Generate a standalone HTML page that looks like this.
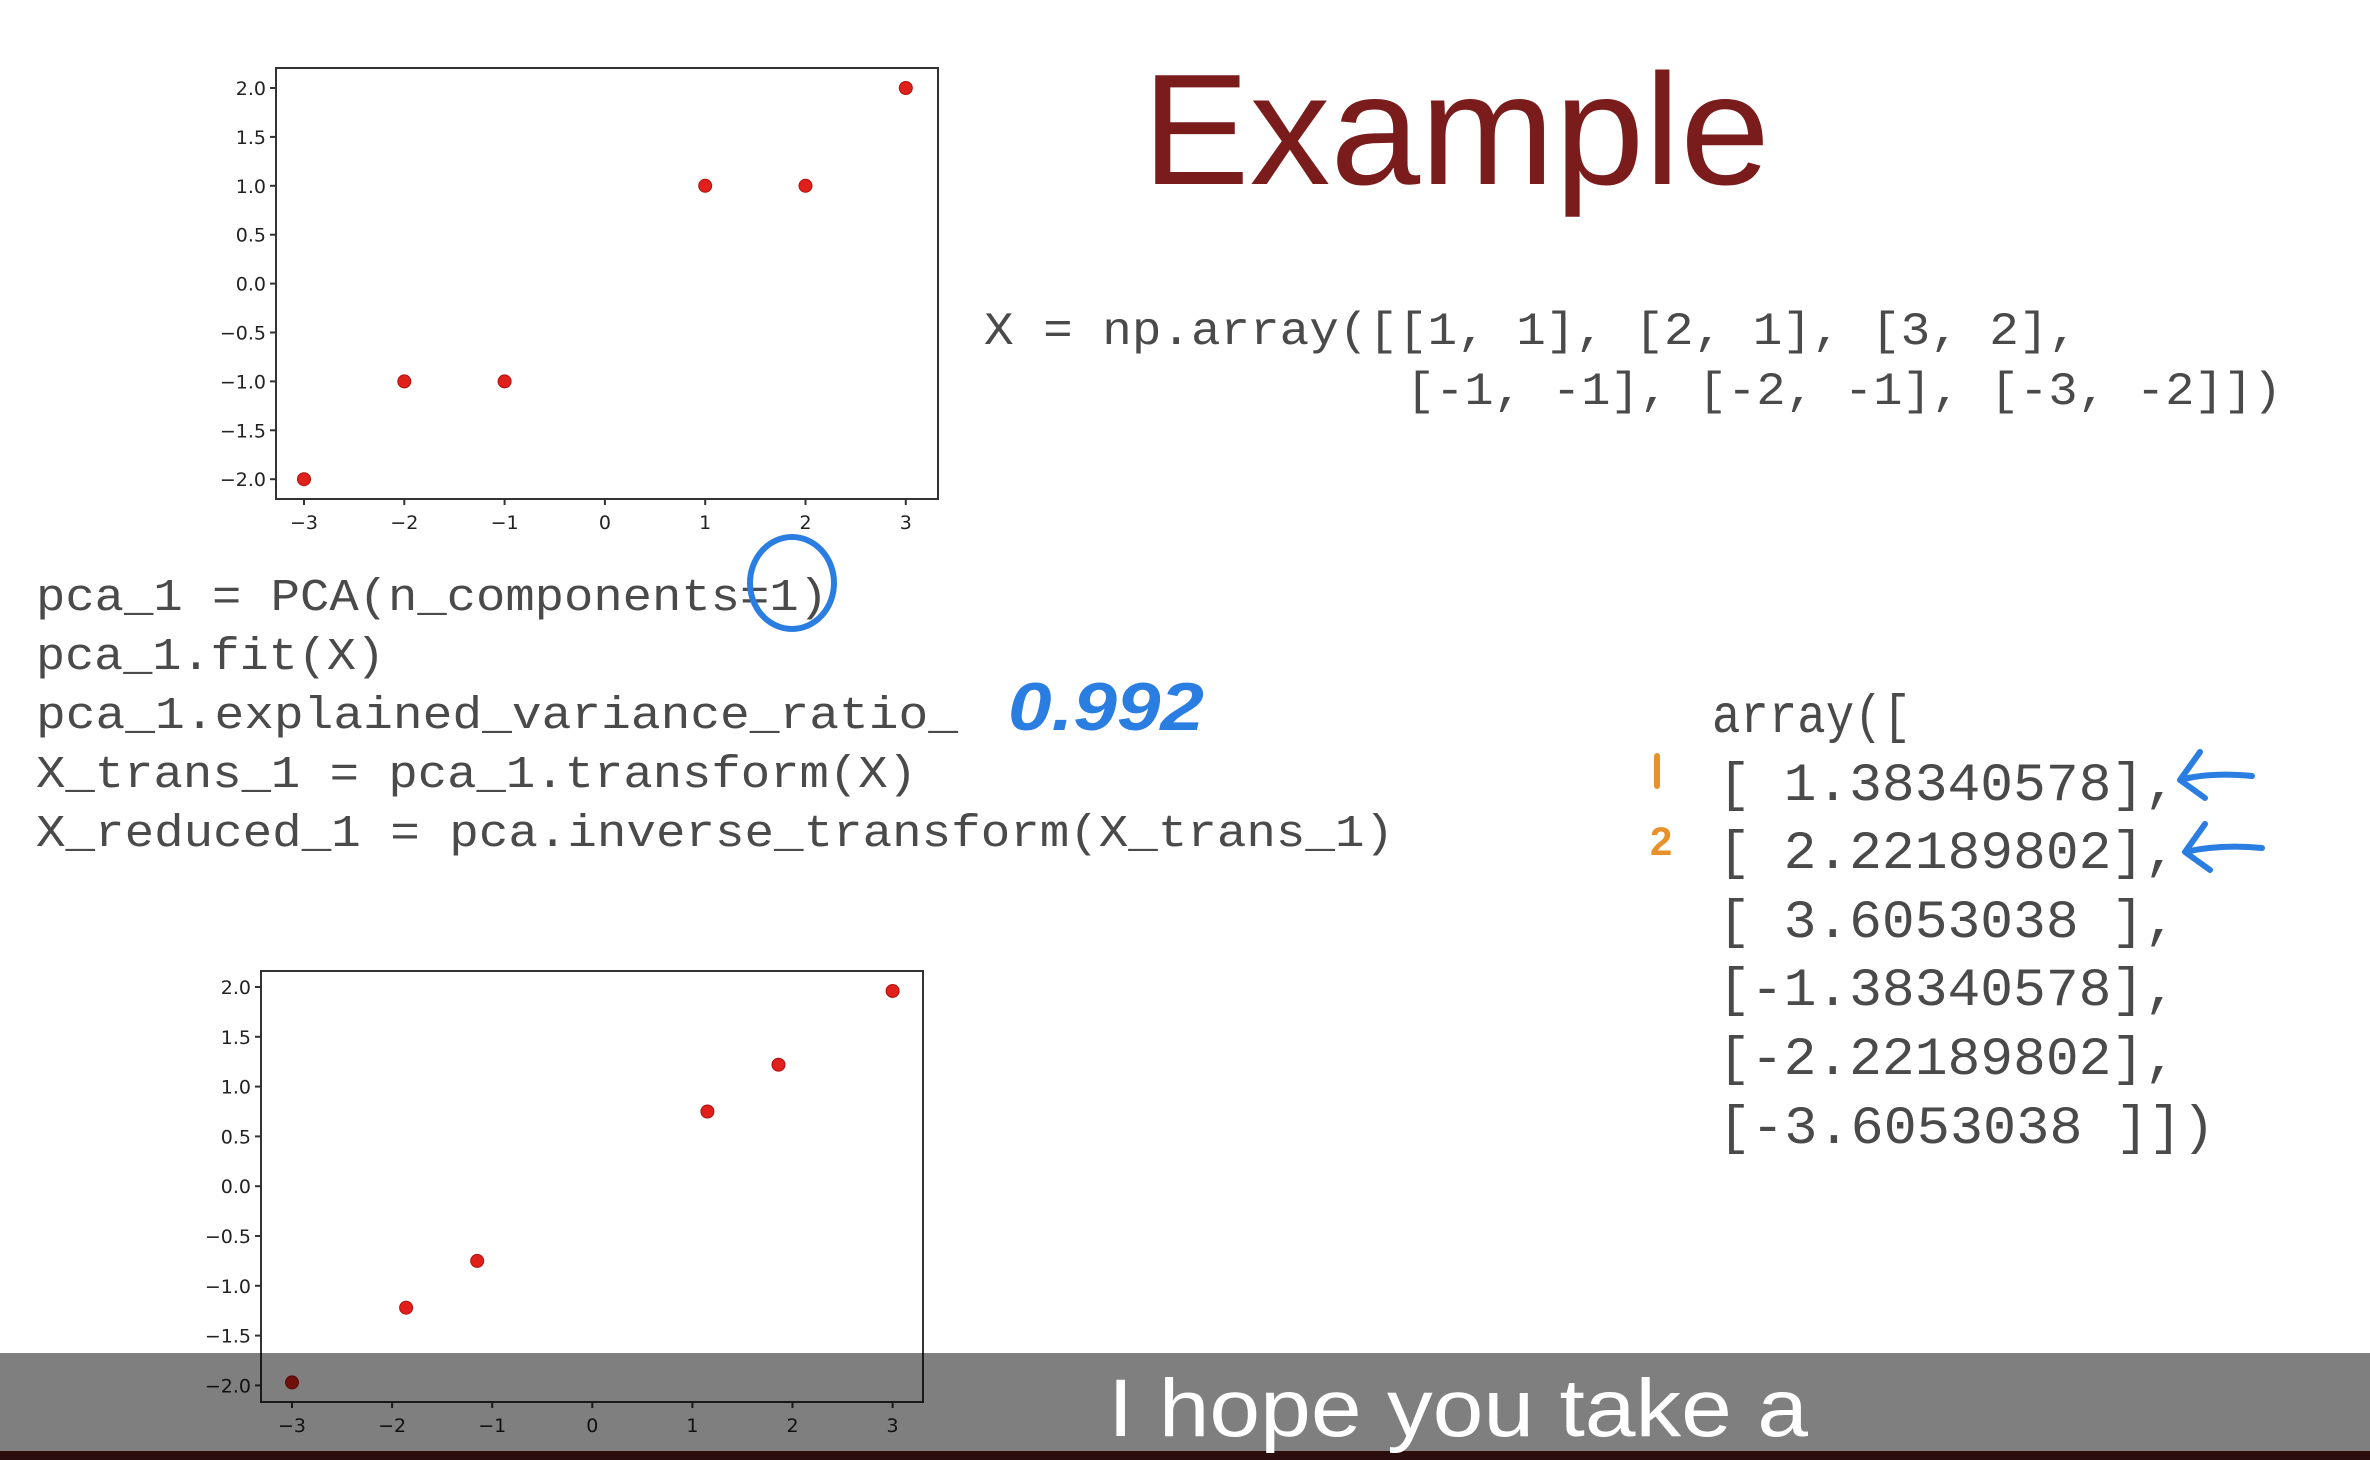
<!DOCTYPE html>
<html><head><meta charset="utf-8"><style>
html,body{margin:0;padding:0;background:#fff;}
svg{display:block;}
.mono{font-family:"Liberation Mono",monospace;fill:#4a4a4a;}
.tick{font-family:"DejaVu Sans","Liberation Sans",sans-serif;font-size:19px;fill:#222;}
</style></head><body>
<svg id="page" width="2370" height="1460" viewBox="0 0 2370 1460" xmlns="http://www.w3.org/2000/svg">
<rect width="2370" height="1460" fill="#fff"/>
<text x="1142" y="184" font-family="Liberation Sans, sans-serif" font-size="158" fill="#7a1c1c" textLength="628" lengthAdjust="spacingAndGlyphs">Example</text>

<g>
<text class="mono" x="984" y="344" font-size="46" textLength="1094" lengthAdjust="spacingAndGlyphs">X = np.array([[1, 1], [2, 1], [3, 2],</text>
<text class="mono" x="1406" y="404" font-size="46" textLength="876" lengthAdjust="spacingAndGlyphs">[-1, -1], [-2, -1], [-3, -2]])</text>
</g>

<g>
<text class="mono" x="36" y="610" font-size="45" textLength="792" lengthAdjust="spacingAndGlyphs">pca_1 = PCA(n_components=1)</text>
<text class="mono" x="36" y="669" font-size="45" textLength="349" lengthAdjust="spacingAndGlyphs">pca_1.fit(X)</text>
<text class="mono" x="36" y="728" font-size="45" textLength="922" lengthAdjust="spacingAndGlyphs">pca_1.explained_variance_ratio_</text>
<text class="mono" x="36" y="787" font-size="45" textLength="881" lengthAdjust="spacingAndGlyphs">X_trans_1 = pca_1.transform(X)</text>
<text class="mono" x="36" y="846" font-size="45" textLength="1358" lengthAdjust="spacingAndGlyphs">X_reduced_1 = pca.inverse_transform(X_trans_1)</text>
</g>

<g>
<text class="mono" x="1712" y="732" font-size="54" textLength="199" lengthAdjust="spacingAndGlyphs">array([</text>
<text class="mono" x="1718" y="800" font-size="54" textLength="459" lengthAdjust="spacingAndGlyphs">[ 1.38340578],</text>
<text class="mono" x="1718" y="868" font-size="54" textLength="459" lengthAdjust="spacingAndGlyphs">[ 2.22189802],</text>
<text class="mono" x="1718" y="937" font-size="54" textLength="459" lengthAdjust="spacingAndGlyphs">[ 3.6053038 ],</text>
<text class="mono" x="1718" y="1005" font-size="54" textLength="459" lengthAdjust="spacingAndGlyphs">[-1.38340578],</text>
<text class="mono" x="1718" y="1074" font-size="54" textLength="459" lengthAdjust="spacingAndGlyphs">[-2.22189802],</text>
<text class="mono" x="1718" y="1143" font-size="54" textLength="497" lengthAdjust="spacingAndGlyphs">[-3.6053038 ]])</text>
</g>

<g>
<ellipse cx="792" cy="583" rx="42" ry="46" fill="none" stroke="#2a7de1" stroke-width="6"/>
<text x="1008" y="730" font-family="Liberation Sans, sans-serif" font-style="italic" font-weight="bold" font-size="68" fill="#2a7de1" textLength="196" lengthAdjust="spacingAndGlyphs">0.992</text>
<path d="M2252 776 Q2210 772 2180 780 M2180 780 L2200 752 M2180 780 L2205 798" stroke="#2a7de1" stroke-width="6" fill="none" stroke-linecap="round"/>
<path d="M2262 848 Q2220 844 2185 852 M2185 852 L2205 824 M2185 852 L2210 870" stroke="#2a7de1" stroke-width="6" fill="none" stroke-linecap="round"/>
<path d="M1657 756 L1657 786" stroke="#e8912a" stroke-width="6" stroke-linecap="round"/>
<text x="1650" y="855" font-family="Liberation Sans, sans-serif" font-weight="bold" font-size="40" fill="#e8912a">2</text>
<path d="M667 1050 L676 1072" stroke="#e8912a" stroke-width="6" stroke-linecap="round"/>
<text x="740" y="1030" font-family="Liberation Sans, sans-serif" font-weight="bold" font-size="40" fill="#e8912a" transform="rotate(-30 755 1015)">2</text>
</g>

<g id="chart1"></g>
<g id="chart2"></g>

<rect x="0" y="1353" width="2370" height="98" fill="rgba(0,0,0,0.5)"/>
<rect x="0" y="1451" width="2370" height="9" fill="#2b0d0d"/>
<text x="1108" y="1436" font-family="Liberation Sans, sans-serif" font-size="82" fill="#fff" textLength="700" lengthAdjust="spacingAndGlyphs">I hope you take a</text>
</svg>
<script>
const xTicks = [-3, -2, -1, 0, 1, 2, 3];
const yTicks = [2.0, 1.5, 1.0, 0.5, 0.0, -0.5, -1.0, -1.5, -2.0];
const origX = [1, 2, 3, -1, -2, -3];
const origY = [1, 1, 2, -1, -1, -2];
const redX = [1.15, 1.86, 3.0, -1.15, -1.86, -3.0];
const redY = [0.75, 1.22, 1.96, -0.75, -1.22, -1.97];

const NS = 'http://www.w3.org/2000/svg';
function mk(tag, attrs, parent) {
  const e = document.createElementNS(NS, tag);
  for (const k in attrs) e.setAttribute(k, attrs[k]);
  parent.appendChild(e);
  return e;
}
function drawChart(id, frame, xs, ys, px, py) {
  const g = document.getElementById(id);
  const sx = v => px.x0 + (v - px.v0) * px.k;
  const sy = v => py.y0 - (v - py.v0) * py.k;
  const box = mk('rect', {x: frame.l, y: frame.t, width: frame.r - frame.l, height: frame.b - frame.t, fill: '#fff', stroke: '#333', 'stroke-width': 2}, g);
  
  
  xTicks.forEach(t => {
    const x = sx(t);
    const tk = mk('line', {x1: x, x2: x, y1: frame.b, y2: frame.b + 6, stroke: '#333', 'stroke-width': 2}, g);
    
    
    const tl = mk('text', {x: x, y: frame.b + 30, 'text-anchor': 'middle', class: 'tick'}, g);
    tl.textContent = t < 0 ? '\u2212' + Math.abs(t) : String(t);
    
    
  });
  yTicks.forEach(t => {
    const y = sy(t);
    const tk = mk('line', {x1: frame.l - 6, x2: frame.l, y1: y, y2: y, stroke: '#333', 'stroke-width': 2}, g);
    
    
    const tl = mk('text', {x: frame.l - 10, y: y + 7, 'text-anchor': 'end', class: 'tick'}, g);
    tl.textContent = (t < 0 ? '\u2212' : '') + Math.abs(t).toFixed(1);
    
    
  });
  xs.forEach((v, i) => {
    const c = mk('circle', {cx: sx(v), cy: sy(ys[i]), r: 6.5, fill: '#e0201b', stroke: '#b01010', 'stroke-width': 1}, g);
    
    
  });
}
drawChart('chart1', {l: 276, t: 68, r: 938, b: 499}, origX, origY,
  {x0: 304, v0: -3, k: 100.3}, {y0: 88, v0: 2, k: 97.8});
drawChart('chart2', {l: 261, t: 971, r: 923, b: 1402}, redX, redY,
  {x0: 292, v0: -3, k: 100.1}, {y0: 987, v0: 2, k: 99.6});
</script>
</body></html>
